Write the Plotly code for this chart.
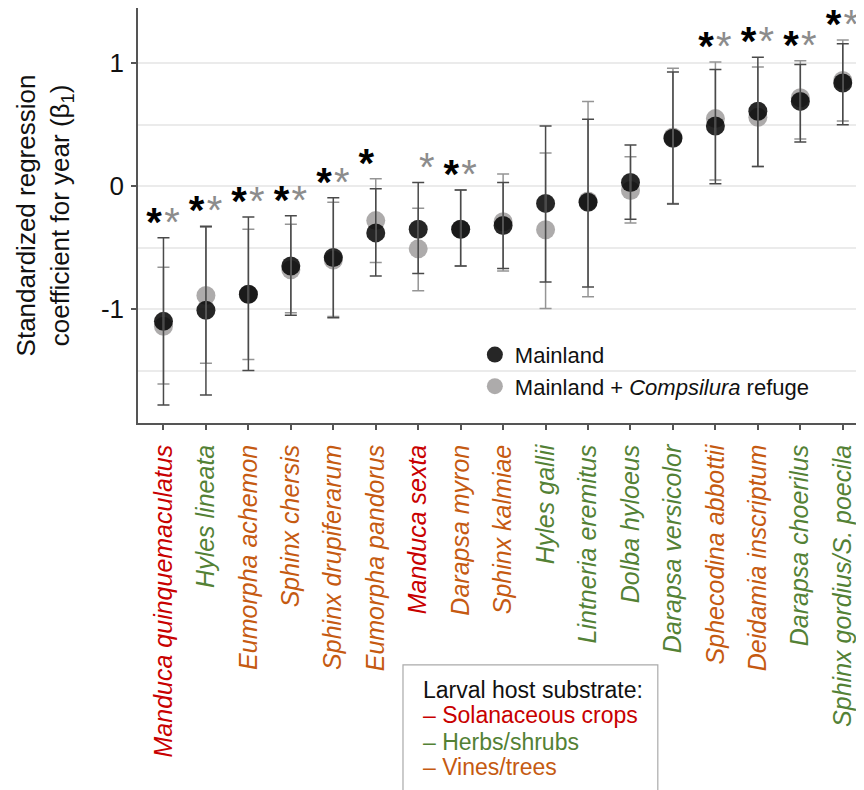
import plotly.graph_objects as go

# ---------------- data ----------------
species = ["Manduca quinquemaculatus", "Hyles lineata", "Eumorpha achemon", "Sphinx chersis",
           "Sphinx drupiferarum", "Eumorpha pandorus", "Manduca sexta", "Darapsa myron",
           "Sphinx kalmiae", "Hyles gallii", "Lintneria eremitus", "Dolba hyloeus",
           "Darapsa versicolor", "Sphecodina abbottii", "Deidamia inscriptum",
           "Darapsa choerilus", "Sphinx gordius/S. poecila"]
host = ["crop", "herb", "vine", "vine", "vine", "vine", "crop", "vine", "vine", "herb",
        "herb", "herb", "herb", "vine", "vine", "herb", "herb"]

# Mainland
main_est = [-1.10, -1.01, -0.88, -0.65, -0.58, -0.38, -0.35, -0.35, -0.32, -0.14,
            -0.13, 0.03, 0.39, 0.49, 0.61, 0.69, 0.84]
main_lo = [-1.78, -1.70, -1.50, -1.05, -1.07, -0.73, -0.71, -0.65, -0.67, -0.78,
           -0.82, -0.27, -0.145, 0.02, 0.16, 0.36, 0.50]
main_hi = [-0.42, -0.325, -0.25, -0.24, -0.095, -0.02, 0.03, -0.03, 0.03, 0.49,
           0.545, 0.335, 0.93, 0.95, 1.05, 0.99, 1.16]

# Mainland + Compsilura refuge
ref_est = [-1.14, -0.89, -0.88, -0.68, -0.60, -0.28, -0.51, -0.35, -0.29, -0.355,
           -0.12, -0.035, 0.40, 0.55, 0.56, 0.72, 0.86]
ref_lo = [-1.61, -1.44, -1.41, -1.03, -1.06, -0.62, -0.85, -0.65, -0.69, -0.995,
          -0.90, -0.30, -0.14, 0.05, 0.16, 0.385, 0.53]
ref_hi = [-0.66, -0.335, -0.35, -0.31, -0.13, 0.06, -0.18, -0.03, 0.10, 0.27,
          0.69, 0.24, 0.96, 1.01, 0.97, 1.02, 1.19]

# significance stars (as shown)
main_sig = [1, 1, 1, 1, 1, 1, 0, 1, 0, 0, 0, 0, 0, 1, 1, 1, 1]
ref_sig = [1, 1, 1, 1, 1, 0, 1, 1, 0, 0, 0, 0, 0, 1, 1, 1, 1]

host_colors = {"crop": "#C80000", "herb": "#538135", "vine": "#C55A11"}
FONT = "Liberation Sans, Arial, sans-serif"

x = list(range(len(species)))
ticktext = [f"<span style='color:{host_colors[h]}'><i>{s}</i></span>" for s, h in zip(species, host)]

fig = go.Figure()

# dots (gray below black)
fig.add_trace(go.Scatter(
    x=x, y=ref_est, mode="markers", name="Mainland + <i>Compsilura</i> refuge",
    marker=dict(size=19, color="#A9A7A7", opacity=0.95, line=dict(width=0)),
    legendrank=2, hoverinfo="skip"))
fig.add_trace(go.Scatter(
    x=x, y=main_est, mode="markers", name="Mainland",
    marker=dict(size=19, color="#000000", opacity=0.85, line=dict(width=0)),
    legendrank=1, hoverinfo="skip"))

# error bars drawn on top
fig.add_trace(go.Scatter(
    x=x, y=ref_est, mode="markers", showlegend=False, hoverinfo="skip",
    marker=dict(size=1, color="rgba(0,0,0,0)"),
    error_y=dict(type="data", symmetric=False,
                 array=[h - e for h, e in zip(ref_hi, ref_est)],
                 arrayminus=[e - l for e, l in zip(ref_est, ref_lo)],
                 color="#959595", thickness=1.5, width=6)))
fig.add_trace(go.Scatter(
    x=x, y=main_est, mode="markers", showlegend=False, hoverinfo="skip",
    marker=dict(size=1, color="rgba(0,0,0,0)"),
    error_y=dict(type="data", symmetric=False,
                 array=[h - e for h, e in zip(main_hi, main_est)],
                 arrayminus=[e - l for e, l in zip(main_est, main_lo)],
                 color="#4A4A4A", thickness=1.5, width=6)))

# stars
star_top = [max(a, b) + 0.155 for a, b in zip(main_hi, ref_hi)]
STAR_SHIFT = 0.06
fig.add_trace(go.Scatter(
    x=[i - 0.22 for i, s in zip(x, main_sig) if s],
    y=[t - STAR_SHIFT for t, s in zip(star_top, main_sig) if s],
    mode="text", text=["<b>*</b>"] * sum(main_sig), textposition="middle center",
    textfont=dict(family=FONT, size=40, color="#000000"), cliponaxis=False,
    showlegend=False, hoverinfo="skip"))
fig.add_trace(go.Scatter(
    x=[i + 0.2 for i, s in zip(x, ref_sig) if s],
    y=[t - STAR_SHIFT for t, s in zip(star_top, ref_sig) if s],
    mode="text", text=["*"] * sum(ref_sig), textposition="middle center",
    textfont=dict(family=FONT, size=40, color="#8C8C8C"), cliponaxis=False,
    showlegend=False, hoverinfo="skip"))

# zero reference line
fig.add_shape(type="line", xref="paper", x0=0, x1=1, yref="y", y0=0, y1=0,
              line=dict(color="#333333", width=1.5, dash="dot"), layer="below")

# host substrate box
fig.add_shape(type="rect", xref="paper", yref="paper", x0=0.365, x1=0.716, y0=-0.583, y1=-0.95,
              line=dict(color="#AAAAAA", width=1.2), fillcolor="white")
box_lines = [("Larval host substrate:", "#111111"),
             ("\u2013 Solanaceous crops", host_colors["crop"]),
             ("\u2013 Herbs/shrubs", host_colors["herb"]),
             ("\u2013 Vines/trees", host_colors["vine"])]
box_y = [-0.643, -0.704, -0.769, -0.829]
for (txt, col), yy in zip(box_lines, box_y):
    fig.add_annotation(text=txt, xref="paper", yref="paper", x=0.39, y=yy,
                       xanchor="left", yanchor="middle", showarrow=False,
                       font=dict(family=FONT, size=23, color=col))

# page body has an 8px margin: figure is 856x782 placed at (8, 8)
fig.update_layout(
    width=856, height=782,
    margin=dict(l=130, r=0, t=0, b=367, autoexpand=False),
    paper_bgcolor="white", plot_bgcolor="white",
    font=dict(family=FONT, size=22, color="#111111"),
    showlegend=True,
    legend=dict(x=0.464, y=0.215, xanchor="left", yanchor="top",
                bgcolor="rgba(0,0,0,0)", font=dict(family=FONT, size=22, color="#111111"),
                itemsizing="trace"),
)
fig.update_xaxes(
    automargin=False,
    range=[-0.6, 16.5], tickmode="array", tickvals=x, ticktext=ticktext,
    tickangle=-90, tickfont=dict(family=FONT, size=25),
    showline=True, linecolor="#555555", linewidth=1.5, mirror=True,
    ticks="outside", ticklen=5, tickcolor="#555555", tickwidth=1.5,
    showgrid=False, zeroline=False, ticklabelstandoff=5)
fig.update_yaxes(
    automargin=False,
    range=[-1.927, 1.45], tickmode="array", tickvals=[-1, 0, 1], ticktext=["-1", "0", "1"],
    tickfont=dict(family=FONT, size=26, color="#111111"),
    showline=True, linecolor="#555555", linewidth=1.5, mirror=False,
    ticks="outside", ticklen=5, tickcolor="#555555", tickwidth=1.5,
    showgrid=True, gridcolor="#EBEBEB", gridwidth=1.5, zeroline=False,
    minor=dict(dtick=0.5, tick0=0, showgrid=True, gridcolor="#EBEBEB", gridwidth=1.5, ticks=""),
    ticklabelstandoff=2,
    title=dict(text="Standardized regression<br>coefficient for year (\u03b2<sub>1</sub>)",
               font=dict(family=FONT, size=26, color="#111111"), standoff=24))

fig.write_html("out.html")
